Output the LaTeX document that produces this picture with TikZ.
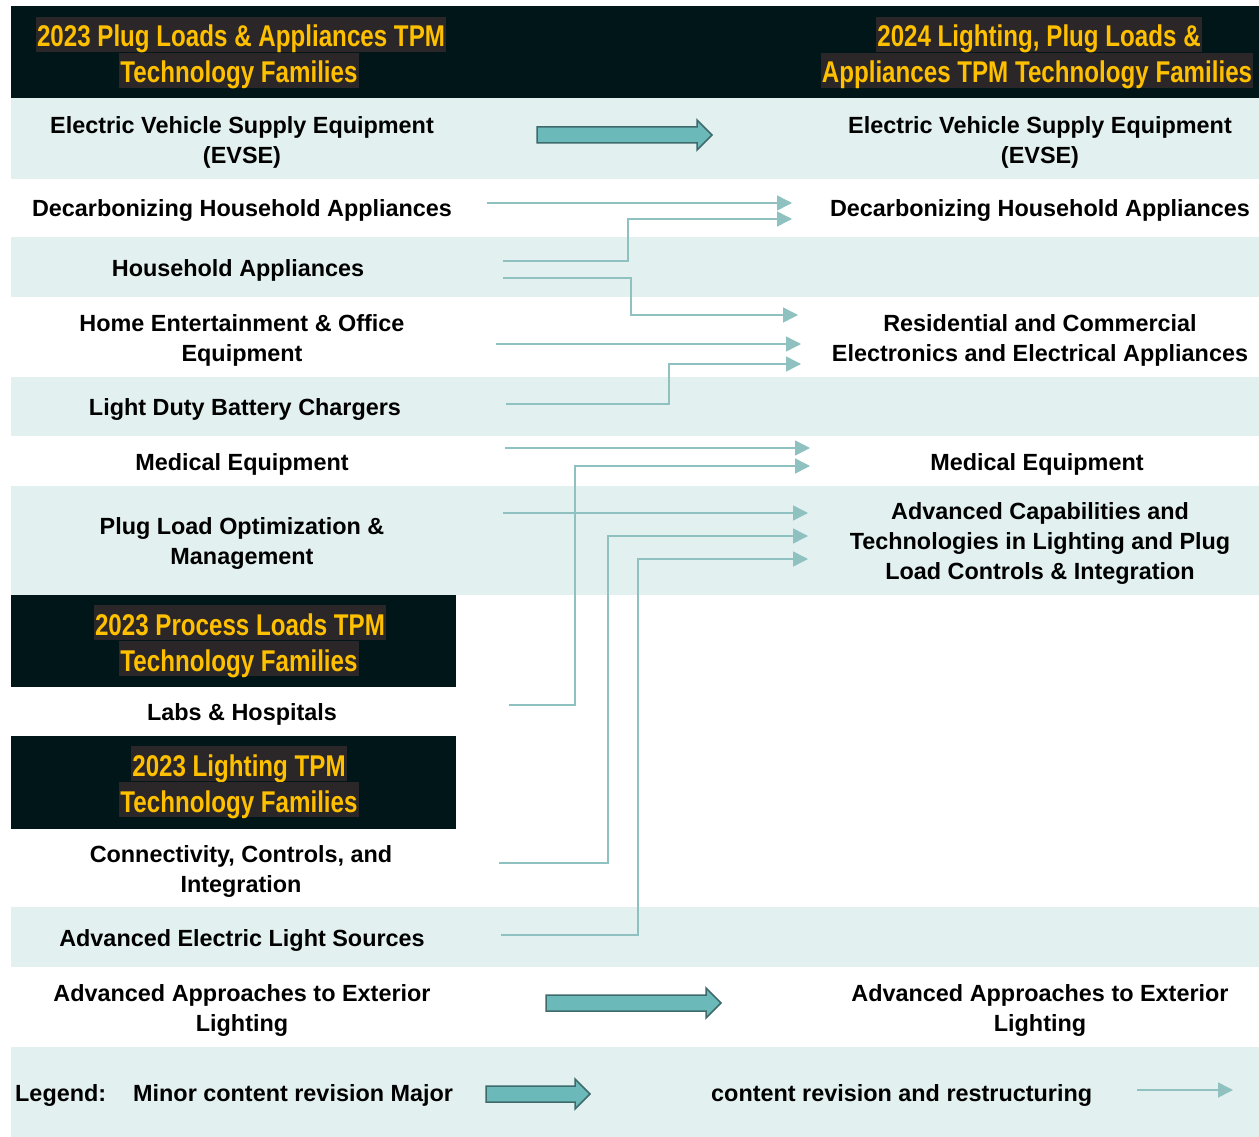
\documentclass[tikz,border=0pt]{standalone}
\usepackage{fontspec}
\setmainfont{Liberation Sans}
\newfontfamily\hdfont{Liberation Sans}[FakeStretch=0.805]
\usetikzlibrary{arrows.meta}
\definecolor{darkbg}{HTML}{011618}
\definecolor{hlbg}{HTML}{2B2628}
\definecolor{gold}{HTML}{FFC000}
\definecolor{band}{HTML}{E2F0F0}
\definecolor{thinc}{HTML}{8EC1C0}
\definecolor{bigfill}{HTML}{6CB9BA}
\definecolor{bigedge}{HTML}{3F6A6C}
\newcommand\myBigArrow[3]{%
  \draw[big] (#1,#3-8) -- (#2-15,#3-8) -- (#2-15,#3-15) -- (#2,#3) -- (#2-15,#3+15) -- (#2-15,#3+8) -- (#1,#3+8) -- cycle;}
\begin{document}
\begin{tikzpicture}[x=1pt,y=-1pt,
  hl/.style={fill=hlbg,text=gold,font=\hdfont\bfseries\fontsize{30}{36}\selectfont,inner xsep=1pt,inner ysep=0pt,text height=30pt,text depth=5pt,anchor=base},
  txt/.style={font=\bfseries\fontsize{23.4}{30}\selectfont,align=center,inner sep=0pt},
  link/.style={draw=thinc,line width=1.5pt,-{Triangle[length=15pt,width=15pt]}},
  big/.style={fill=bigfill,draw=bigedge,line width=1.5pt}]
\useasboundingbox[fill=white] (0,0) rectangle (1259,1137);
% bands
\fill[darkbg] (11,6) rectangle (1259,98);
\fill[band] (11,98) rectangle (1259,179);
\fill[band] (11,237) rectangle (1259,297);
\fill[band] (11,377) rectangle (1259,436);
\fill[band] (11,486) rectangle (1259,595);
\fill[darkbg] (11,595) rectangle (456,687);
\fill[darkbg] (11,736) rectangle (456,829);
\fill[band] (11,907) rectangle (1259,967);
\fill[band] (11,1047) rectangle (1259,1137);
% headers
\node[hl] (h1a) at (241,47) {2023 Plug Loads \& Appliances TPM};
\node[hl] (h1b) at (239,83) {Technology Families};
\node[hl] (h2a) at (1039,47) {2024 Lighting, Plug Loads \&};
\node[hl] (h2b) at (1037,83) {Appliances TPM Technology Families};
\node[hl] (h3a) at (240,635) {2023 Process Loads TPM};
\node[hl] (h3b) at (239,671) {Technology Families};
\node[hl] (h4a) at (239,776) {2023 Lighting TPM};
\node[hl] (h4b) at (239,812) {Technology Families};
% texts
\node[txt] (l1) at (242,142) {Electric Vehicle Supply Equipment\\(EVSE)};
\node[txt] (r1) at (1040,142) {Electric Vehicle Supply Equipment\\(EVSE)};
\node[txt] (l2) at (242,211) {Decarbonizing Household Appliances};
\node[txt] (r2) at (1040,211) {Decarbonizing Household Appliances};
\node[txt] (l3) at (238,270) {Household Appliances};
\node[txt] (l4) at (242,340) {Home Entertainment \& Office\\Equipment};
\node[txt] (r4) at (1040,340) {Residential and Commercial\\Electronics and Electrical Appliances};
\node[txt] (l5) at (245,409) {Light Duty Battery Chargers};
\node[txt] (l6) at (242,464) {Medical Equipment};
\node[txt] (r6) at (1037,464) {Medical Equipment};
\node[txt] (l7) at (242,543) {Plug Load Optimization \&\\Management};
\node[txt] (r7) at (1040,543) {Advanced Capabilities and\\Technologies in Lighting and Plug\\Load Controls \& Integration};
\node[txt] (l8) at (242,714) {Labs \& Hospitals};
\node[txt] (l9) at (241,871) {Connectivity, Controls, and\\Integration};
\node[txt] (l10) at (242,940) {Advanced Electric Light Sources};
\node[txt] (l11) at (242,1010) {Advanced Approaches to Exterior\\Lighting};
\node[txt] (r11) at (1040,1010) {Advanced Approaches to Exterior\\Lighting};
\node[txt,anchor=west] (lg1) at (15,1095) {Legend:};
\node[txt,anchor=west] (lg2) at (133,1095) {Minor content revision Major};
\node[txt,anchor=west] (lg3) at (711,1095) {content revision and restructuring};
% big arrows
\myBigArrow{537}{712}{135}
\myBigArrow{546}{721}{1003}
\myBigArrow{486}{590}{1094}
% thin connectors
\coordinate (s2) at (487,203);   \coordinate (e2) at (792,203);
\coordinate (s3a) at (503,261);  \coordinate (e3a) at (792,219);
\coordinate (s3b) at (503,278);  \coordinate (e3b) at (798,315);
\coordinate (s4) at (496,344);   \coordinate (e4) at (801,344);
\coordinate (s5) at (506,404);   \coordinate (e5) at (801,364);
\coordinate (s6) at (505,448);   \coordinate (e6) at (810,448);
\coordinate (s8) at (509,705);   \coordinate (e8) at (810,466);
\coordinate (s7) at (503,513);   \coordinate (e7) at (808,513);
\coordinate (s9) at (499,863);   \coordinate (e9) at (808,536);
\coordinate (s10) at (501,935);  \coordinate (e10) at (808,559);
\coordinate (sl) at (1137,1090); \coordinate (el) at (1233,1090);
\draw[link] (s2) -- (e2);
\draw[link] (s3a) -- (628,261) |- (e3a);
\draw[link] (s3b) -- (631,278) |- (e3b);
\draw[link] (s4) -- (e4);
\draw[link] (s5) -- (669,404) |- (e5);
\draw[link] (s6) -- (e6);
\draw[link] (s8) -- (575,705) |- (e8);
\draw[link] (s7) -- (e7);
\draw[link] (s9) -- (608,863) |- (e9);
\draw[link] (s10) -- (638,935) |- (e10);
\draw[link] (sl) -- (el);
\end{tikzpicture}
\end{document}
